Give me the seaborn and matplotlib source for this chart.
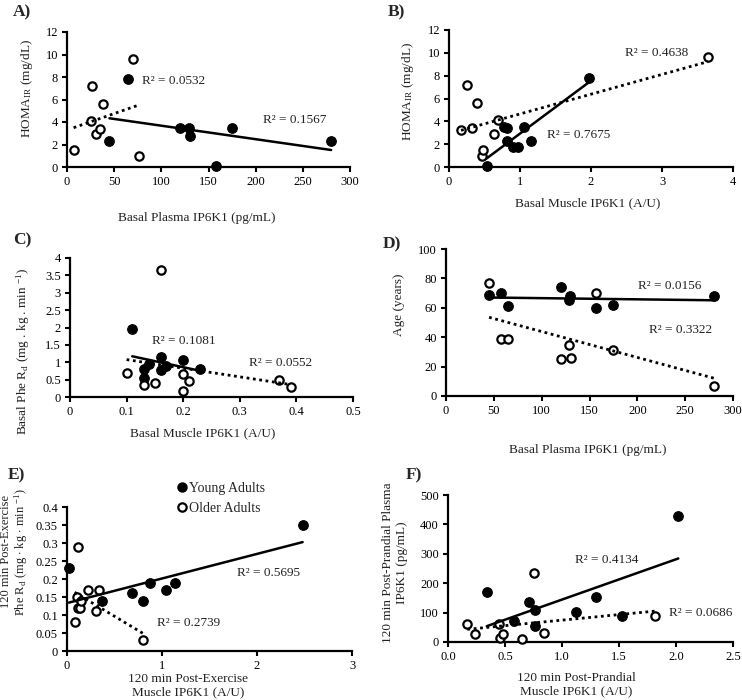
import numpy as np
import pandas as pd
import matplotlib
matplotlib.use("Agg")
import matplotlib.pyplot as plt
from matplotlib.ticker import FuncFormatter
from matplotlib.lines import Line2D
import seaborn as sns

sns.set_theme(style="white")
plt.rcParams['font.family'] = ['Liberation Serif', 'DejaVu Serif']
plt.rcParams['mathtext.fontset'] = 'custom'
plt.rcParams['mathtext.rm'] = 'Liberation Serif'
plt.rcParams['mathtext.it'] = 'Liberation Serif:italic'

# ---------------- data ----------------
# Panel A: Basal plasma IP6K1 vs HOMA-IR
a_young_x = [45, 65, 120, 129, 130, 158, 175, 280]
a_young_y = [2.3, 7.8, 3.5, 3.5, 2.8, 0.05, 3.5, 2.3]
a_older_x = [7, 25, 26, 31, 35, 38, 70, 76]
a_older_y = [1.5, 4.1, 7.2, 2.9, 3.4, 5.6, 9.6, 1.0]
a_r2 = ["R² = 0.1567", "R² = 0.0532"]

# Panel B: Basal muscle IP6K1 vs HOMA-IR
b_young_x = [0.53, 0.78, 0.82, 0.82, 0.90, 0.97, 1.06, 1.15, 1.97]
b_young_y = [0.05, 3.5, 3.4, 2.3, 1.75, 1.75, 3.5, 2.3, 7.8]
b_older_x = [0.17, 0.26, 0.33, 0.39, 0.47, 0.48, 0.64, 0.69, 3.65]
b_older_y = [3.2, 7.2, 3.4, 5.6, 1.0, 1.5, 2.9, 4.1, 9.6]
b_r2 = ["R² = 0.7675", "R² = 0.4638"]

# Panel C: Basal muscle IP6K1 vs basal Phe Rd
c_young_x = [0.11, 0.13, 0.13, 0.14, 0.16, 0.16, 0.17, 0.20, 0.23]
c_young_y = [1.97, 0.55, 0.82, 0.95, 1.15, 0.78, 0.90, 1.07, 0.82]
c_older_x = [0.10, 0.13, 0.15, 0.16, 0.20, 0.20, 0.21, 0.37, 0.39]
c_older_y = [0.70, 0.35, 0.40, 3.65, 0.65, 0.18, 0.47, 0.50, 0.28]
c_r2 = ["R² = 0.1081", "R² = 0.0552"]

# Panel D: Basal plasma IP6K1 vs age
d_young_x = [45, 57, 65, 120, 129, 130, 157, 175, 280]
d_young_y = [69, 70, 61, 74, 65, 68, 60, 62, 68]
d_older_x = [45, 57, 65, 120, 129, 131, 157, 175, 280]
d_older_y = [77, 39, 39, 25, 35, 26, 70, 31, 7]
d_r2 = ["R² = 0.0156", "R² = 0.3322"]

# Panel E: 120 min post-exercise muscle IP6K1 vs Phe Rd
e_young_x = [0.02, 0.37, 0.68, 0.80, 0.87, 1.04, 1.14, 2.48]
e_young_y = [0.23, 0.14, 0.16, 0.14, 0.19, 0.17, 0.19, 0.35]
e_older_x = [0.08, 0.10, 0.12, 0.12, 0.14, 0.15, 0.22, 0.31, 0.34, 0.80]
e_older_y = [0.08, 0.15, 0.29, 0.12, 0.12, 0.14, 0.17, 0.11, 0.17, 0.03]
e_r2 = ["R² = 0.5695", "R² = 0.2739"]

# Panel F: 120 min post-prandial muscle IP6K1 vs plasma IP6K1
f_young_x = [0.34, 0.58, 0.71, 0.76, 0.76, 1.12, 1.30, 1.53, 2.02]
f_young_y = [170, 70, 135, 110, 55, 103, 152, 90, 430]
f_older_x = [0.17, 0.24, 0.45, 0.46, 0.48, 0.65, 0.75, 0.84, 1.82]
f_older_y = [60, 28, 60, 13, 27, 10, 235, 30, 88]
f_r2 = ["R² = 0.4134", "R² = 0.0686"]

group_labels = ["Young Adults", "Older Adults"]

# ---------------- figure ----------------
fig = plt.figure(figsize=(7.42, 7.00), dpi=100)

FS = 9.5
TFS = 9.0

def fmt_g(v, p):
    return "{:g}".format(round(v, 6))

def make_panel(rect, yx, yy, ox, oy, r2, r2pos, xlim, xticks, ylim, yticks,
               xlabel, ylabel, xlab_pos, ylab_pos, letter, letter_pos, xfmt=None,
               ylab_fs=FS, ylab_ls=1.15):
    ax = fig.add_axes(rect)
    dfy = pd.DataFrame({"x": yx, "y": yy})
    dfo = pd.DataFrame({"x": ox, "y": oy})
    sns.scatterplot(data=dfy, x="x", y="y", ax=ax, s=48, color="black",
                    edgecolor="black", linewidth=0.8, zorder=3, clip_on=False,
                    legend=False)
    sns.scatterplot(data=dfo, x="x", y="y", ax=ax, s=36, color="white",
                    edgecolor="black", linewidth=1.6, zorder=3, clip_on=False,
                    legend=False)
    sns.regplot(data=dfy, x="x", y="y", ax=ax, scatter=False, ci=None,
                truncate=True, line_kws=dict(color="black", lw=1.8, zorder=4))
    sns.regplot(data=dfo, x="x", y="y", ax=ax, scatter=False, ci=None,
                truncate=True, line_kws=dict(color="black", lw=2.0,
                                             ls=(0, (1.0, 1.3)), zorder=4))
    ax.set_xlim(*xlim)
    ax.set_ylim(*ylim)
    ax.set_xticks(xticks)
    ax.set_yticks(yticks)
    ax.xaxis.set_major_formatter(FuncFormatter(xfmt if xfmt else fmt_g))
    ax.yaxis.set_major_formatter(FuncFormatter(fmt_g))
    for s in ["top", "right"]:
        ax.spines[s].set_visible(False)
    for s in ["left", "bottom"]:
        ax.spines[s].set_color("black")
        ax.spines[s].set_linewidth(1.6)
    ax.tick_params(direction="out", length=3.5, width=1.5, colors="black",
                   labelsize=TFS, pad=3, left=True, bottom=True)
    ax.set_xlabel(xlabel, fontsize=FS, color="#222222", linespacing=1.15)
    ax.set_ylabel(ylabel, fontsize=ylab_fs, color="#222222", linespacing=ylab_ls)
    ax.xaxis.label.set_verticalalignment("center")
    ax.yaxis.label.set_verticalalignment("center")
    ax.xaxis.set_label_coords(*xlab_pos)
    ax.yaxis.set_label_coords(*ylab_pos)
    ax.grid(False)
    ax.set_facecolor("white")
    for txt, (tx, ty) in zip(r2, r2pos):
        ax.text(tx, ty, txt, fontsize=FS, ha="left", va="center", color="#222222")
    fig.text(letter_pos[0], letter_pos[1], letter, fontsize=12.5,
             fontweight="bold", ha="left", va="top")
    return ax

W, H = 742.0, 700.0
def rect(l, r, t, b):
    return [l / W, 1 - b / H, (r - l) / W, (b - t) / H]

make_panel(rect(67, 350, 32, 167), a_young_x, a_young_y, a_older_x, a_older_y,
           a_r2, [(208, 4.2), (80, 7.6)], (0, 300), [0, 50, 100, 150, 200, 250, 300],
           (0, 12), [0, 2, 4, 6, 8, 10, 12],
           "Basal Plasma IP6K1 (pg/mL)", r"HOMA$_{\mathregular{IR}}$ (mg/dL)",
           (0.46, -0.378), (-0.141, 0.585), "A)", (13 / W, 1 - 4 / H))

make_panel(rect(449, 733, 30, 167), b_young_x, b_young_y, b_older_x, b_older_y,
           b_r2, [(1.38, 2.8), (2.48, 10.0)], (0, 4), [0, 1, 2, 3, 4],
           (0, 12), [0, 2, 4, 6, 8, 10, 12],
           "Basal Muscle IP6K1 (A/U)", r"HOMA$_{\mathregular{IR}}$ (mg/dL)",
           (0.49, -0.263), (-0.144, 0.55), "B)", (388 / W, 1 - 4 / H))

make_panel(rect(70, 353, 258, 397), c_young_x, c_young_y, c_older_x, c_older_y,
           c_r2, [(0.145, 1.61), (0.316, 0.98)], (0, 0.5), [0, 0.1, 0.2, 0.3, 0.4, 0.5],
           (0, 4), [0, 0.5, 1, 1.5, 2, 2.5, 3, 3.5, 4],
           "Basal Muscle IP6K1 (A/U)",
           r"Basal Phe R$_{\mathregular{d}}$ (mg . kg . min $^{\mathregular{-1}}$)",
           (0.47, -0.26), (-0.166, 0.33), "C)", (13 / W, 1 - 232 / H))

make_panel(rect(446, 733, 249, 396), d_young_x, d_young_y, d_older_x, d_older_y,
           d_r2, [(201, 75), (212, 45)], (0, 300), [0, 50, 100, 150, 200, 250, 300],
           (0, 100), [0, 20, 40, 60, 80, 100],
           "Basal Plasma IP6K1 (pg/mL)", "Age (years)",
           (0.495, -0.367), (-0.164, 0.62), "D)", (383 / W, 1 - 236 / H))

axE = make_panel(rect(67, 352, 507, 651), e_young_x, e_young_y, e_older_x, e_older_y,
           e_r2, [(1.79, 0.217), (0.95, 0.078)], (0, 3), [0, 1, 2, 3],
           (0, 0.4), [0, 0.05, 0.1, 0.15, 0.2, 0.25, 0.3, 0.35, 0.4],
           "120 min Post-Exercise\nMuscle IP6K1 (A/U)",
           "120 min Post-Exercise\n" + r"Phe R$_{\mathregular{d}}$ (mg $\cdot$ kg $\cdot$ min $^{\mathregular{-1}}$)",
           (0.425, -0.243), (-0.183, 0.69), "E)", (8 / W, 1 - 467 / H),
           ylab_fs=9.0, ylab_ls=1.0)

make_panel(rect(448, 733, 495, 642), f_young_x, f_young_y, f_older_x, f_older_y,
           f_r2, [(1.11, 279), (1.94, 99)], (0, 2.5), [0, 0.5, 1.0, 1.5, 2.0, 2.5],
           (0, 500), [0, 100, 200, 300, 400, 500],
           "120 min Post-Prandial\nMuscle IP6K1 (A/U)",
           "120 min Post-Prandial Plasma\nIP6K1 (pg/mL)",
           (0.45, -0.29), (-0.186, 0.54), "F)", (406 / W, 1 - 467 / H),
           xfmt=lambda v, p: "{:.1f}".format(v))

handles = [Line2D([], [], marker="o", ls="", markersize=6.5, markerfacecolor="black",
                  markeredgecolor="black"),
           Line2D([], [], marker="o", ls="", markersize=6.0, markerfacecolor="white",
                  markeredgecolor="black", markeredgewidth=1.6)]
axE.legend(handles, group_labels, loc="upper left", bbox_to_anchor=(0.37, 1.215),
           frameon=False, fontsize=FS + 0.5, handlelength=0.6, handletextpad=0.2,
           labelspacing=0.55, borderaxespad=0)

fig.savefig("out.png", dpi=100, facecolor="white")
